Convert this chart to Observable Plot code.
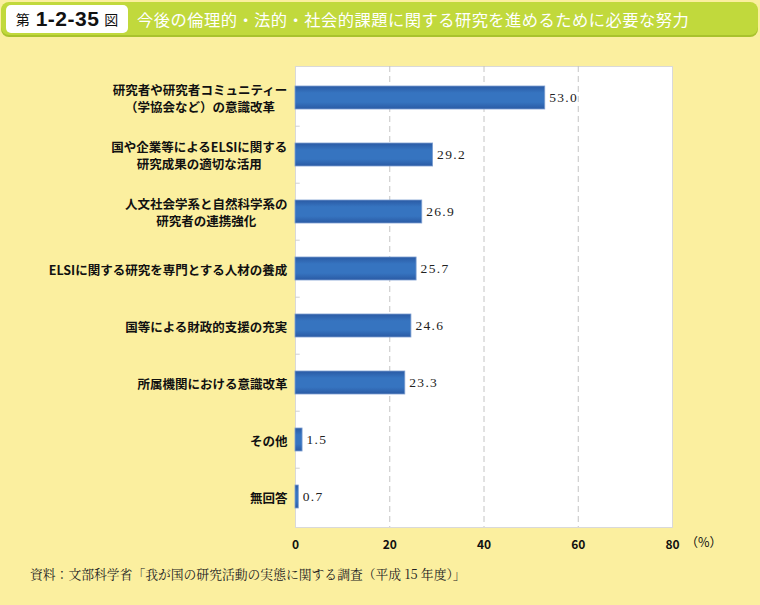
<!DOCTYPE html>
<html>
<head>
<meta charset="utf-8">
<script src="https://cdn.jsdelivr.net/npm/d3@7"></script>
<script src="https://cdn.jsdelivr.net/npm/@observablehq/plot@0.6"></script>
<style>
  html, body { margin:0; padding:0; background:#fbef9f; }
  #wrap { position:relative; width:760px; height:605px; overflow:hidden; background:#fbef9f; font-family:"Noto Sans CJK JP", sans-serif; }
  #bar { position:absolute; left:1px; top:2px; width:757px; height:33px; border-radius:8px; background:#c1d93c; box-shadow:0 2px 0 #a9c22c; }
  #badge { position:absolute; left:6px; top:5px; width:122px; height:28px; border-radius:5px; background:#fff; display:flex; align-items:center; justify-content:center; color:#111; }
  #badge .s { font-size:14px; }
  #badge .n { font-family:"Liberation Sans", Arial, sans-serif; font-weight:bold; font-size:21px; margin:0 5px 0 6px; letter-spacing:0.5px; }
  #title { position:absolute; left:137px; top:7px; height:24px; line-height:24px; color:#fff; font-size:16.3px; letter-spacing:0.45px; white-space:nowrap; }
  #plot { position:absolute; left:0; top:42px; }
  #caption { position:absolute; left:30px; top:564px; font-family:"Noto Serif CJK JP", "Noto Sans CJK JP", serif; font-size:12.8px; color:#222; white-space:nowrap; }
</style>
</head>
<body>
<div id="wrap">
  <div id="bar"></div>
  <div id="badge"><span class="s">第</span><span class="n">1-2-35</span><span class="s">図</span></div>
  <div id="title">今後の倫理的・法的・社会的課題に関する研究を進めるために必要な努力</div>
  <div id="plot"></div>
  <div id="caption">資料：文部科学省「我が国の研究活動の実態に関する調査（平成 15 年度）」</div>
</div>
<script>
const categories = [
  "研究者や研究者コミュニティー（学協会など）の意識改革",
  "国や企業等によるELSIに関する研究成果の適切な活用",
  "人文社会学系と自然科学系の研究者の連携強化",
  "ELSIに関する研究を専門とする人材の養成",
  "国等による財政的支援の充実",
  "所属機関における意識改革",
  "その他",
  "無回答"
];
const labelLines = [
  ["研究者や研究者コミュニティー", "（学協会など）の意識改革"],
  ["国や企業等によるELSIに関する", "研究成果の適切な活用"],
  ["人文社会学系と自然科学系の", "研究者の連携強化"],
  ["ELSIに関する研究を専門とする人材の養成"],
  ["国等による財政的支援の充実"],
  ["所属機関における意識改革"],
  ["その他"],
  ["無回答"]
];
const values = [53.0, 29.2, 26.9, 25.7, 24.6, 23.3, 1.5, 0.7];
const xTicks = [0, 20, 40, 60, 80];

const data = categories.map((c, i) => ({cat: c, value: values[i], lines: labelLines[i]}));

const labelFont = "bold 12.5px 'Noto Sans CJK JP'";
const ctx = document.createElement("canvas").getContext("2d");
ctx.font = labelFont;
const measure = s => ctx.measureText(s).width;

const gradientDefs = () => {
  const defs = d3.create("svg:defs");
  const g = defs.append("linearGradient").attr("id", "barGrad").attr("x1", 0).attr("y1", 0).attr("x2", 0).attr("y2", 1);
  g.append("stop").attr("offset", "0%").attr("stop-color", "#2a5aa4");
  g.append("stop").attr("offset", "30%").attr("stop-color", "#3674c0");
  g.append("stop").attr("offset", "70%").attr("stop-color", "#3674c0");
  g.append("stop").attr("offset", "100%").attr("stop-color", "#2a5aa4");
  return defs.node();
};

const labelMarks = data.map(d => {
  const w = Math.max(...d.lines.map(measure));
  return Plot.text([d], {
    y: "cat",
    text: r => r.lines.join("\n"),
    frameAnchor: "left",
    textAnchor: "middle",
    dx: -(8 + w / 2),
    lineHeight: 1.4,
    fontSize: 12.5,
    fontWeight: "bold",
    fill: "#111"
  });
});

const chart = Plot.plot({
  width: 760,
  height: 520,
  marginLeft: 295,
  marginRight: 88,
  marginTop: 24,
  marginBottom: 35,
  style: {background: "transparent", fontFamily: "'Noto Sans CJK JP', sans-serif"},
  x: {domain: [0, 80], ticks: xTicks, label: null},
  y: {domain: categories, paddingInner: 0.6, paddingOuter: 0.3, axis: null},
  marks: [
    gradientDefs,
    Plot.frame({fill: "white", stroke: "#d9d9d9"}),
    Plot.gridX([20, 40, 60], {stroke: "#c4c4c4", strokeOpacity: 1, strokeDasharray: "6,4"}),
    Plot.ruleY(categories.slice(1), {y: d => d, x1: 0, x2: 1, dy: -28.8, stroke: "#d0d0d0"}),
    Plot.barX(data, {y: "cat", x: "value", fill: "url(#barGrad)", stroke: "#7d9fd1", strokeWidth: 0.8}),
    Plot.text(data, {
      y: "cat", x: "value", text: d => d.value.toFixed(1),
      textAnchor: "start", dx: 4,
      fontFamily: "'Liberation Serif', serif", fontSize: 13.5, fill: "#222"
    }),
    ...labelMarks,
    Plot.axisX(xTicks, {tickSize: 0, tickPadding: 13, fontSize: 12, fontWeight: "bold", fill: "#111", label: null}),
    Plot.text(["（%）"], {frameAnchor: "bottom-right", textAnchor: "start", dx: 13, dy: 19, fontSize: 12.5, fill: "#111"})
  ]
});
d3.select(chart).selectAll("g[font-family*='Serif']").attr("letter-spacing", "1.3px");
document.getElementById("plot").appendChild(chart);
</script>
</body>
</html>
